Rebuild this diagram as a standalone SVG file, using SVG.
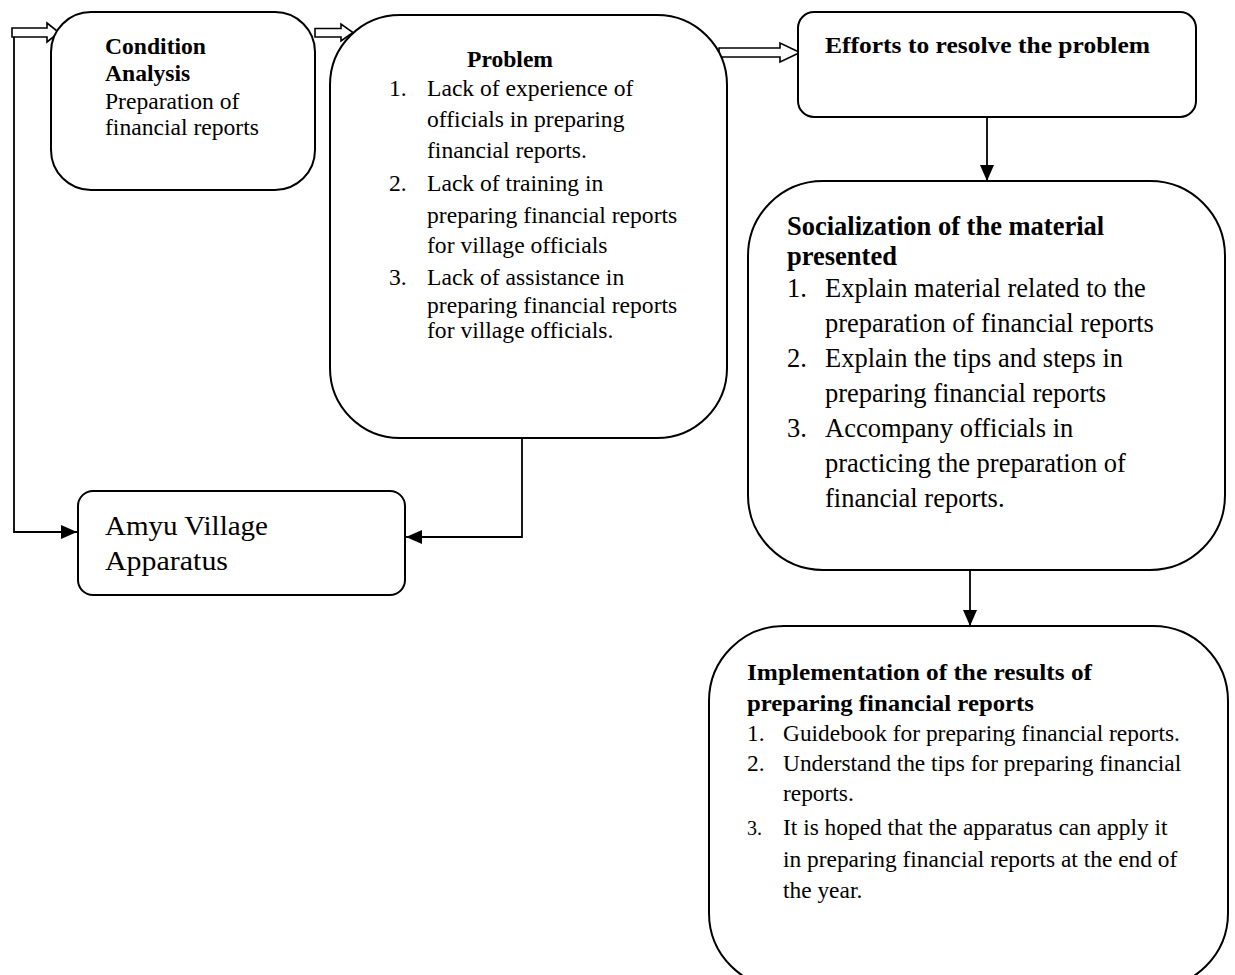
<svg xmlns="http://www.w3.org/2000/svg" width="1235" height="975" viewBox="0 0 1235 975">
<defs>
<style>
.box{fill:#fff;stroke:#000;stroke-width:2}
.hol{fill:#fff;stroke:#000;stroke-width:1.6;stroke-linejoin:miter}
.ln{fill:none;stroke:#000;stroke-width:1.8}
text{font-family:"Liberation Serif","Times New Roman",serif;fill:#000}
.t{font-size:23.6px}
.b{font-size:23.6px;font-weight:bold}
.s{font-size:26.5px}
.sb{font-size:26.5px;font-weight:bold}
.i{font-size:23.4px}
.a{font-size:28px}
</style>
<marker id="ah" markerUnits="userSpaceOnUse" markerWidth="16" markerHeight="14" refX="16" refY="7" orient="auto">
<path d="M0,0 L16,7 L0,14 z" fill="#000"/>
</marker>
</defs>
<rect width="1235" height="975" fill="#fff"/>

<g id="connectors">
<polyline class="ln" points="14,37 14,532 77,532" marker-end="url(#ah)"/>
<polyline class="ln" points="522,438 522,537 406,537" marker-end="url(#ah)"/>
<line class="ln" x1="987" y1="117" x2="987" y2="181" marker-end="url(#ah)"/>
<line class="ln" x1="970" y1="570" x2="970" y2="626" marker-end="url(#ah)"/>
<polygon class="hol" points="12,28 47,28 47,23 59,32.5 47,42 47,37 12,37"/>
<polygon class="hol" points="315,28.5 341,28.5 341,24 353,32.5 341,41 341,37 315,37"/>
<polygon class="hol" points="719,48 780,48 780,43 800,52.5 780,62 780,57 719,57"/>
</g>

<g id="condition">
<rect class="box" x="51" y="12" width="264" height="178" rx="40" ry="40"/>
<text class="b" x="105" y="54">Condition</text>
<text class="b" x="105" y="81">Analysis</text>
<text class="t" x="105" y="109">Preparation of</text>
<text class="t" x="105" y="135">financial reports</text>
</g>

<g id="problem">
<rect class="box" x="330" y="15" width="397" height="423" rx="70" ry="70"/>
<text class="b" x="510" y="67" text-anchor="middle">Problem</text>
<text class="t" x="389" y="96">1.</text><text class="t" x="427" y="96">Lack of experience of</text>
<text class="t" x="427" y="127">officials in preparing</text>
<text class="t" x="427" y="158">financial reports.</text>
<text class="t" x="389" y="191">2.</text><text class="t" x="427" y="191">Lack of training in</text>
<text class="t" x="427" y="223">preparing financial reports</text>
<text class="t" x="427" y="253">for village officials</text>
<text class="t" x="389" y="285">3.</text><text class="t" x="427" y="285">Lack of assistance in</text>
<text class="t" x="427" y="313">preparing financial reports</text>
<text class="t" x="427" y="338">for village officials.</text>
</g>

<g id="efforts">
<rect class="box" x="798" y="12" width="398" height="105" rx="16" ry="16"/>
<text class="b" x="825" y="53" textLength="325" lengthAdjust="spacingAndGlyphs">Efforts to resolve the problem</text>
</g>

<g id="socialization">
<rect class="box" x="748" y="181" width="477" height="389" rx="75" ry="75"/>
<text class="sb" x="787" y="235">Socialization of the material</text>
<text class="sb" x="787" y="265">presented</text>
<text class="s" x="787" y="297">1.</text><text class="s" x="825" y="297">Explain material related to the</text>
<text class="s" x="825" y="332">preparation of financial reports</text>
<text class="s" x="787" y="367">2.</text><text class="s" x="825" y="367">Explain the tips and steps in</text>
<text class="s" x="825" y="402">preparing financial reports</text>
<text class="s" x="787" y="437">3.</text><text class="s" x="825" y="437">Accompany officials in</text>
<text class="s" x="825" y="472">practicing the preparation of</text>
<text class="s" x="825" y="507">financial reports.</text>
</g>

<g id="implementation">
<rect class="box" x="709" y="626" width="519" height="362" rx="75" ry="75"/>
<text class="b" x="747" y="680" textLength="345" lengthAdjust="spacingAndGlyphs">Implementation of the results of</text>
<text class="b" x="747" y="711" textLength="287" lengthAdjust="spacingAndGlyphs">preparing financial reports</text>
<text class="i" x="747" y="741">1.</text><text class="i" x="783" y="741">Guidebook for preparing financial reports.</text>
<text class="i" x="747" y="771">2.</text><text class="i" x="783" y="771">Understand the tips for preparing financial</text>
<text class="i" x="783" y="801">reports.</text>
<text class="i" x="747" y="835" style="font-size:20px">3.</text><text class="i" x="783" y="835">It is hoped that the apparatus can apply it</text>
<text class="i" x="783" y="867">in preparing financial reports at the end of</text>
<text class="i" x="783" y="898">the year.</text>
</g>

<g id="amyu">
<rect class="box" x="78" y="491" width="327" height="104" rx="15" ry="15"/>
<text class="a" x="105" y="535" textLength="163" lengthAdjust="spacingAndGlyphs">Amyu Village</text>
<text class="a" x="105" y="570" textLength="123" lengthAdjust="spacingAndGlyphs">Apparatus</text>
</g>
</svg>
